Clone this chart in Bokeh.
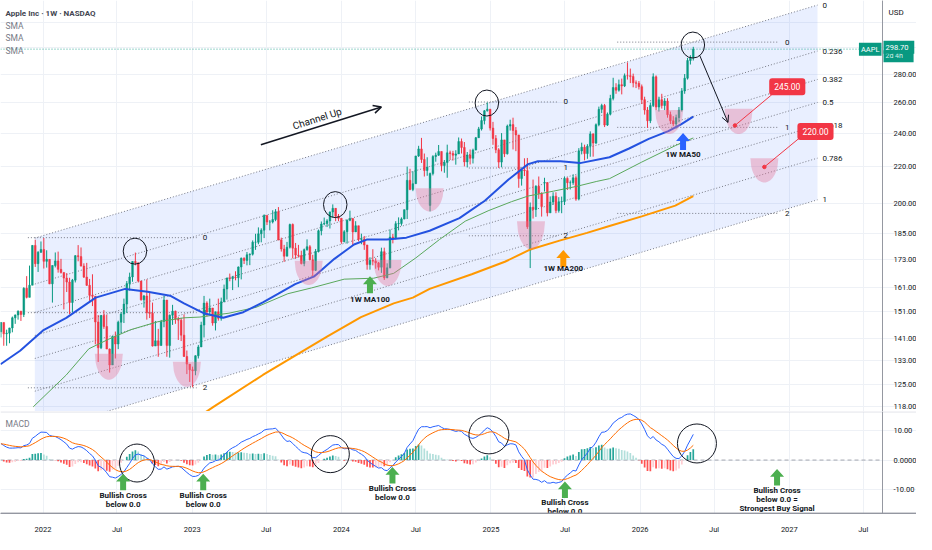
import numpy as np
import pandas as pd
from bokeh.plotting import figure
from bokeh.layouts import column
from bokeh.models import Range1d, FixedTicker, Span, Label, Arrow, OpenHead, ColumnDataSource
from bokeh.core.properties import value
from bokeh.embed import file_html
from bokeh.resources import INLINE

# ---------------- DATA (AAPL weekly) ----------------
first_week = "2021-09-20"
first_open = 143.40
closes = [
    146.92, 142.65, 142.90, 144.84, 148.69, 149.80, 151.28, 149.99, 160.55, 156.81, 161.84, 179.45, 171.14, 176.28, 177.57,
    172.17, 173.07, 162.41, 170.33, 172.39, 168.64, 167.30, 164.85, 163.17, 154.73, 163.98, 174.72, 174.31, 170.09, 165.29,
    161.79, 157.65, 157.28, 147.11, 137.59, 149.64, 145.38, 137.13, 131.56, 141.66, 138.93, 147.04, 150.17, 154.09, 162.51,
    165.35, 172.10, 171.52, 163.62, 155.81, 157.37, 150.70, 150.43, 138.20, 140.09, 138.38, 147.27, 155.74, 138.38, 149.70,
    151.29, 148.11, 147.81, 142.16, 134.51, 131.86, 129.93,
    129.62, 134.76, 137.87, 145.93, 154.50, 151.01, 152.55, 146.71, 151.03, 148.50, 155.00, 160.25, 164.90, 164.66, 165.21,
    165.02, 169.68, 173.57, 172.57, 175.16, 175.43, 180.95, 180.96, 184.92, 186.68, 193.97, 190.68, 190.69, 191.94, 195.83,
    181.99, 177.79, 174.49, 178.61, 189.46, 178.18, 175.01, 174.79, 171.21, 177.49, 178.85, 172.88, 168.22, 176.65, 186.40,
    189.69, 189.97, 191.24, 195.71, 197.57, 193.60, 192.53,
    181.18, 185.92, 191.56, 192.42, 185.85, 188.85, 182.31, 182.52, 179.66, 170.73, 172.62, 172.28, 171.48, 169.58, 176.55,
    165.00, 169.30, 183.38, 183.05, 189.87, 189.98, 192.25, 196.89, 212.49, 207.49, 210.62, 226.34, 230.54, 224.31, 217.96,
    219.86, 216.24, 226.05, 226.84, 229.00, 220.82, 222.50, 228.20, 227.79, 226.80, 227.55, 235.00, 231.41, 222.91, 226.96,
    225.00, 229.87, 237.33, 242.84, 248.13, 254.49, 255.59, 243.36,
    236.85, 229.98, 222.78, 236.00, 227.63, 244.60, 245.55, 241.84, 239.07, 213.49, 218.27, 217.90, 188.38, 198.15, 196.98,
    209.28, 205.35, 198.53, 211.26, 195.27, 200.85, 203.92, 196.45, 201.00, 201.08, 213.55, 211.16, 211.18, 213.88, 202.38,
    229.35, 231.59, 227.76, 232.14, 239.69, 234.07, 245.50, 255.46, 258.02, 245.27, 252.29, 262.82, 270.37, 268.47, 272.41,
    271.49, 278.85, 278.78, 278.28, 273.67, 273.40, 271.00,
    262.0, 255.0, 248.0, 258.0, 278.0, 257.0, 262.0, 258.0, 261.0, 252.0, 248.0, 246.0, 250.0, 255.0, 268.0,
    277.0, 290.0, 292.0, 298.70,
]
highs = [
    147.1, 145.7, 144.2, 144.9, 149.2, 150.0, 151.6, 151.4, 161.0, 165.7, 170.3, 179.6, 182.1, 176.8, 181.3,
    182.94, 177.2, 173.1, 170.4, 176.2, 176.6, 173.3, 166.2, 167.0, 165.0, 164.5, 175.0, 179.6, 178.5, 171.3,
    171.5, 164.5, 166.5, 156.7, 149.8, 149.7, 151.7, 149.9, 137.3, 141.9, 143.5, 147.6, 150.9, 156.3, 163.6,
    167.2, 172.2, 176.15, 168.9, 162.6, 157.8, 164.3, 158.7, 154.7, 147.5, 144.5, 147.9, 157.5, 155.4, 150.0,
    153.8, 151.5, 149.1, 148.7, 150.0, 136.6, 131.4,
    131.0, 134.9, 138.6, 147.2, 157.4, 155.2, 156.3, 151.3, 151.1, 156.3, 156.7, 162.1, 165.0, 166.8, 165.8,
    167.8, 169.9, 173.9, 174.0, 176.4, 175.8, 181.8, 184.95, 188.05, 187.6, 194.5, 193.9, 191.7, 196.6, 197.2,
    198.23, 183.1, 179.7, 181.1, 189.9, 189.98, 180.6, 179.7, 177.0, 178.0, 182.3, 179.6, 175.1, 177.8, 187.0,
    190.96, 192.9, 192.1, 195.99, 199.62, 197.7, 194.7,
    188.4, 186.7, 191.95, 196.4, 192.0, 191.1, 188.7, 185.0, 183.9, 176.9, 174.0, 177.7, 173.6, 171.9, 178.4,
    178.4, 171.3, 187.0, 184.9, 191.1, 193.0, 193.0, 196.9, 220.2, 218.95, 217.5, 226.45, 232.4, 237.23, 227.8,
    225.6, 216.8, 226.8, 228.3, 232.9, 229.0, 224.0, 233.1, 229.5, 229.4, 229.75, 237.5, 236.85, 234.7, 228.7,
    230.2, 230.7, 237.8, 244.1, 250.8, 255.0, 260.10, 253.5,
    247.3, 238.96, 231.0, 240.2, 236.0, 245.55, 248.7, 250.0, 244.0, 236.2, 218.8, 225.0, 225.2, 200.6, 212.9,
    209.75, 214.6, 206.0, 213.9, 211.3, 203.8, 206.0, 206.0, 203.4, 203.7, 214.65, 214.1, 212.4, 215.8, 215.2,
    231.0, 234.3, 233.1, 233.4, 241.3, 240.1, 246.3, 257.3, 259.2, 259.1, 253.4, 265.3, 277.3, 273.4, 276.0,
    276.7, 280.4, 288.62, 284.0, 280.3, 275.4, 275.0,
    272.5, 264.0, 257.0, 260.0, 280.5, 279.0, 264.0, 266.0, 263.0, 263.0, 254.0, 251.0, 252.0, 257.0, 270.0,
    280.0, 292.0, 294.0, 300.5,
]
lows = [
    141.3, 138.3, 138.3, 139.2, 143.2, 146.4, 148.0, 147.5, 149.0, 156.4, 157.8, 164.0, 169.7, 167.5, 176.0,
    169.0, 169.4, 162.3, 154.7, 169.5, 167.2, 166.8, 152.0, 159.0, 150.1, 150.8, 163.0, 172.2, 169.9, 164.9,
    161.5, 155.4, 153.3, 138.8, 132.6, 137.1, 144.5, 137.1, 129.0, 133.9, 133.8, 137.1, 142.7, 146.7, 150.6,
    159.6, 163.3, 170.4, 163.0, 155.5, 152.7, 148.0, 148.6, 138.0, 138.2, 134.4, 140.3, 145.1, 134.4, 134.1,
    146.0, 146.4, 140.4, 140.0, 134.4, 128.5, 125.9,
    124.17, 128.1, 133.8, 137.9, 141.3, 149.2, 150.0, 145.7, 143.9, 147.6, 147.6, 155.3, 155.9, 163.5, 159.8,
    163.9, 161.0, 164.3, 171.0, 170.4, 170.5, 174.8, 177.4, 180.0, 180.9, 182.9, 189.2, 186.6, 190.0, 191.1,
    181.9, 176.6, 171.96, 174.8, 178.0, 173.5, 173.3, 173.9, 170.8, 170.0, 177.0, 172.6, 165.67, 167.9, 176.2,
    184.2, 189.1, 188.2, 187.5, 192.9, 191.1, 191.1,
    180.2, 180.9, 180.3, 191.1, 179.3, 185.8, 181.4, 180.0, 177.4, 168.5, 168.5, 170.4, 168.9, 168.2, 167.1,
    164.08, 164.8, 169.1, 180.4, 182.3, 186.6, 188.9, 192.0, 192.2, 207.1, 206.6, 211.5, 225.8, 222.3, 214.6,
    215.0, 196.0, 215.2, 223.0, 226.4, 217.5, 216.7, 213.9, 224.0, 223.7, 221.3, 230.4, 227.8, 220.3, 219.7,
    221.4, 222.0, 229.7, 237.2, 241.8, 245.7, 254.0, 241.8,
    233.0, 228.0, 219.4, 219.8, 225.7, 227.2, 241.8, 230.2, 229.2, 208.4, 209.6, 214.9, 187.3, 169.21, 192.4,
    193.25, 202.5, 193.4, 206.4, 193.5, 196.0, 199.4, 195.1, 195.4, 195.1, 199.3, 207.2, 207.5, 210.0, 201.5,
    201.7, 227.3, 223.8, 224.7, 225.9, 225.95, 233.4, 244.5, 253.0, 244.0, 244.7, 251.5, 261.5, 266.0, 267.5,
    265.6, 270.7, 276.0, 273.5, 270.5, 270.0, 269.0,
    259.0, 252.0, 243.5, 246.5, 257.0, 255.0, 254.0, 256.0, 255.0, 250.0, 246.0, 244.5, 243.0, 247.0, 254.0,
    266.0, 276.0, 287.0, 290.0,
]
gap_open_dates = ["2024-08-05", "2025-04-07", "2025-05-12"]
gap_open_vals = [199.09, 177.20, 210.97]

# weekly closes before the visible window (MACD warm-up)
pre_closes = [116.97, 119.02, 115.04, 108.86, 118.69, 119.26, 117.34, 116.59, 122.25, 122.41, 126.66, 131.97, 132.69,
              132.05, 127.14, 139.07, 131.96, 136.76, 135.37, 129.87, 121.26, 121.42, 121.03, 119.99, 121.21, 123.00,
              133.00, 134.16, 134.32, 131.46, 130.21, 127.45, 125.43, 124.61, 125.89, 127.35, 130.46, 133.11, 139.96,
              145.11, 146.39, 148.56, 145.86, 146.14, 149.10, 148.19, 148.60, 154.30, 148.97, 146.06]

ma50_dates = ["2021-09-19", "2021-11-06", "2022-01-01", "2022-02-27", "2022-05-10", "2022-07-21", "2022-09-14",
              "2022-11-08", "2022-12-12", "2023-01-29", "2023-03-18", "2023-05-06", "2023-06-23", "2023-07-31",
              "2023-09-10", "2023-10-27", "2023-12-15", "2024-02-01", "2024-03-03", "2024-04-21", "2024-06-08",
              "2024-08-04", "2024-10-16", "2024-12-17", "2025-02-13", "2025-04-02", "2025-04-26", "2025-06-20",
              "2025-08-07", "2025-10-18", "2025-12-05", "2026-01-22", "2026-03-11", "2026-04-11", "2026-05-11"]
ma50_vals = [131.8, 136.5, 143.9, 148.7, 156.7, 160.3, 159.1, 157.5, 154.4, 150.5, 148.7, 150.9, 154.8, 158.3,
             162.3, 165.6, 173.3, 179.9, 182.2, 182.2, 183.1, 186.4, 192.6, 201.5, 212.9, 221.6, 223.3, 223.3,
             222.2, 225.6, 230.8, 236.6, 241.4, 245.7, 250.7]
ma100_dates = ["2021-12-08", "2022-02-27", "2022-04-23", "2022-06-11", "2022-08-04", "2022-10-09", "2022-12-12",
               "2023-01-20", "2023-04-01", "2023-06-06", "2023-08-23", "2023-10-20", "2024-01-08", "2024-03-20",
               "2024-05-08", "2024-07-01", "2024-08-28", "2024-10-30", "2024-12-27", "2025-02-20", "2025-04-02",
               "2025-06-03", "2025-07-30", "2025-09-17", "2025-10-18", "2026-01-05", "2026-03-28", "2026-05-11"]
ma100_vals = [118.0, 128.2, 137.2, 140.7, 144.2, 147.2, 148.7, 149.0, 150.5, 152.8, 158.3, 160.7, 164.4, 164.8,
              166.9, 173.7, 182.2, 191.1, 196.5, 201.0, 204.0, 206.6, 209.2, 211.9, 213.4, 222.8, 232.5, 237.2]
ma200_dates = ["2023-01-24", "2023-02-22", "2023-06-23", "2023-09-10", "2023-11-28", "2024-02-18", "2024-05-08",
               "2024-06-24", "2024-08-04", "2024-11-15", "2025-02-04", "2025-04-09", "2025-06-20", "2025-08-24",
               "2025-10-18", "2026-01-05", "2026-03-28", "2026-05-11"]
ma200_vals = [115.6, 118.0, 128.2, 134.8, 141.7, 149.0, 154.4, 156.7, 160.3, 166.5, 172.0, 177.7, 181.8, 185.4,
              188.7, 193.5, 199.0, 204.0]

# drawings
channel_dates = ["2021-12-12", "2027-03-11"]
channel_top = [182.9, 334.9]
channel_bottom = [110.3, 202.0]
channel_levels = [0, 0.236, 0.382, 0.5, 0.618, 0.786, 1]
channel_labels = ["0", "0.236", "0.382", "0.5", "0.618", "0.786", "1"]
fib_labels = ["0", "1", "2"]
fib_dates = [["2021-11-25", "2023-01-12"], ["2024-11-08", "2025-06-13"], ["2025-11-06", "2026-12-07"]]
fib_prices = [[183.1, 150.7, 124.0], [260.4, 219.4, 184.0], [304.2, 243.8, 195.0]]
bowl_dates = ["2022-06-11", "2022-12-19", "2023-10-13", "2024-04-23", "2024-08-04", "2025-04-09", "2026-03-13",
              "2026-08-30", "2026-11-01"]
bowl_top = [135.5, 132.7, 172.4, 172.8, 208.2, 191.1, 255.1, 255.8, 225.0]
bowl_bottom = [126.6, 124.3, 161.9, 161.5, 196.0, 177.7, 239.6, 239.6, 211.3]
circle_dates = ["2022-08-14", "2023-12-17", "2024-12-22", "2026-05-10"]
circle_prices = [176.8, 199.5, 259.7, 301.9]
macd_circle_dates = ["2022-08-19", "2023-12-05", "2024-12-27", "2026-05-20"]
macd_circle_vals = [-1.0, 2.0, 8.5, 5.6]
macd_circle_w = [35, 38, 40, 39]
macd_circle_h = [38, 37, 38, 39]
target_dates = ["2026-08-21", "2026-11-01"]
target_prices = [245.0, 220.0]
tag_dates = ["2026-12-27", "2027-03-06"]
tag_prices = [271.0, 241.2]
tag_texts = ["245.00", "220.00"]
tag_line_dates = ["2026-11-20", "2027-01-26"]
tag_line_prices = [265.6, 237.2]
ma_arrow_dates = ["2026-04-16", "2024-03-11", "2025-06-27"]
ma_arrow_tips = [240.2, 165.6, 177.3]
ma_arrow_text = ["1W MA50", "1W MA100", "1W MA200"]
ma_arrow_text_prices = [227.3, 155.9, 169.0]
cross_dates = ["2022-07-16", "2023-01-28", "2024-05-05", "2025-07-01", "2026-12-02"]
cross_tips = [-4.6, -4.6, -2.3, -7.2, -3.0]
cross_texts = [["Bullish Cross", "below 0.0"]] * 4 + [["Bullish Cross", "below 0.0 =", "Strongest Buy Signal"]]
last_price = 298.70

y_ticks = [118, 125, 133, 141, 151, 161, 173, 185, 200, 220, 240, 260, 280, 300, 320]
y_tick_labels = ["118.00", "125.00", "133.00", "141.00", "151.00", "161.00", "173.00", "185.00", "200.00",
                 "220.00", "240.00", "260.00", "280.00", "", ""]
x_tick_dates = ["2022-01-01", "2022-07-01", "2023-01-01", "2023-07-01", "2024-01-01", "2024-07-01", "2025-01-01",
                "2025-07-01", "2026-01-01", "2026-07-01", "2027-01-01", "2027-07-01"]
x_tick_labels = ["2022", "Jul", "2023", "Jul", "2024", "Jul", "2025", "Jul", "2026", "Jul", "2027", "Jul"]
macd_ticks = [-10, 0, 10]
macd_tick_labels = ["-10.00", "0.0000", "10.00"]

# ---------------- helpers / layout ----------------
def ms(d):
    return int(pd.Timestamp(d).value // 10**6)

FONT = "Roboto"
GREEN, RED = "#089981", "#f23645"
AXIS_COL = "#9598a1"
PW, FULLW, FH1, FH2, BOT = 882, 916, 411, 102, 21      # plot-area width, full frame width, pane heights
X0, X1 = ms("2021-09-19"), ms("2027-08-17")               # X1 = where the price scale sits
MS_PX = (X1 - X0) / PW
XE = X0 + FULLW * MS_PX
P_LO, P_HI = 116.6, 338.9
M_LO, M_HI = -18.03, 16.39
PX_LN = FH1 / np.log(P_HI / P_LO)
U_PX = (M_HI - M_LO) / FH2
WEEK = 7 * 24 * 3600 * 1000

weeks = pd.date_range(first_week, periods=len(closes), freq="7D")
xs = np.array([ms(d) for d in weeks], dtype=float)
c = np.array(closes)
o = np.array([first_open] + closes[:-1])
for d, v in zip(gap_open_dates, gap_open_vals):
    o[weeks.get_loc(pd.Timestamp(d))] = v
h = np.maximum(np.array(highs), np.maximum(o, c))
l = np.minimum(np.array(lows), np.minimum(o, c))
ccol = np.where(c >= o, GREEN, RED)

allc = pd.Series(pre_closes + closes, dtype=float)
ema12 = allc.ewm(span=12, adjust=False).mean()
ema26 = allc.ewm(span=26, adjust=False).mean()
macd_all = ema12 - ema26
sig_all = macd_all.ewm(span=9, adjust=False).mean()
hist_all = (macd_all - sig_all).values
n0 = len(pre_closes)
macd = macd_all.values[n0:]
sig = sig_all.values[n0:]
hist = hist_all[n0:]
hprev = hist_all[n0 - 1:-1]
hcol = []
for hv, hp in zip(hist, hprev):
    if hv >= 0:
        hcol.append("#26a69a" if hv > hp else "#b2dfdb")
    else:
        hcol.append("#ff5252" if hv < hp else "#ffcdd2")

xticks = [ms(d) for d in x_tick_dates]

def style_axis(ax):
    ax.axis_line_color = AXIS_COL
    ax.major_tick_line_color = None
    ax.minor_tick_line_color = None
    ax.major_label_text_font = FONT
    ax.major_label_text_font_size = "7.5px"
    ax.major_label_text_color = "#131722"
    ax.major_label_standoff = 5

common = dict(output_backend="svg", toolbar_location=None, min_border_left=0, min_border_right=0,
              min_border_top=0, background_fill_color="white", border_fill_color="white",
              outline_line_color=None)

p1 = figure(frame_width=FULLW, frame_height=FH1, x_range=Range1d(X0, XE), y_range=Range1d(P_LO, P_HI),
            y_axis_type="log", y_axis_location="right", min_border_bottom=0, **common)
p1.xaxis.visible = False
p1.yaxis.ticker = FixedTicker(ticks=y_ticks)
p1.yaxis.major_label_overrides = dict(zip(y_ticks, y_tick_labels))
p1.yaxis.fixed_location = X1
style_axis(p1.yaxis[0])
p1.xgrid.ticker = FixedTicker(ticks=xticks)
p1.ygrid.bounds = (X0, X1)
for g in (p1.xgrid[0], p1.ygrid[0]):
    g.grid_line_color = "#eef1f6"
p1.add_layout(Span(location=X1, dimension="height", line_color=AXIS_COL, line_width=1))

# --- fib channel
cs, ce = ms(channel_dates[0]), ms(channel_dates[1])
p1.patch(x=[cs, ce, ce, cs], y=[channel_top[0], channel_top[1], channel_bottom[1], channel_bottom[0]],
         fill_color="#2962ff", fill_alpha=0.1, line_color=None)
lvl_s = [np.exp(np.log(channel_top[0]) + f * np.log(channel_bottom[0] / channel_top[0])) for f in channel_levels]
lvl_e = [np.exp(np.log(channel_top[1]) + f * np.log(channel_bottom[1] / channel_top[1])) for f in channel_levels]
p1.multi_line(xs=[[cs, ce]] * len(channel_levels), ys=[[a, b] for a, b in zip(lvl_s, lvl_e)],
              line_color="#787b86", line_dash="1 2", line_width=1)
p1.text(x=[ce] * len(channel_levels), y=lvl_e, text=channel_labels, x_offset=5, text_font=value(FONT),
        text_font_size=value("8px"), text_color="#131722", text_baseline="middle", text_align="left")

# --- fib retracements
for fd, fp in zip(fib_dates, fib_prices):
    a, b = ms(fd[0]), ms(fd[1])
    p1.segment(x0=[a] * 3, x1=[b] * 3, y0=fp, y1=fp, line_color="#787b86", line_dash="1 2", line_width=1)
    p1.text(x=[b] * 3, y=fp, text=fib_labels, x_offset=6, text_font=value(FONT), text_font_size=value("8px"),
            text_color="#131722", text_baseline="middle", text_align="left")

# --- last price line
p1.segment(x0=[X0], x1=[X1], y0=[last_price], y1=[last_price], line_color=GREEN, line_dash="1 2", line_alpha=0.8)

# --- candles
src = ColumnDataSource(dict(x=xs, o=o, h=h, l=l, c=c, top=np.maximum(o, c), bot=np.minimum(o, c), col=ccol))
p1.segment(x0="x", x1="x", y0="l", y1="h", line_color="col", line_width=1, source=src)
p1.vbar(x="x", width=0.6 * WEEK, top="top", bottom="bot", fill_color="col", line_color="col",
        line_width=0.5, source=src)

# --- moving averages
p1.line(x=[ms(d) for d in ma100_dates], y=ma100_vals, line_color="#5aa85c", line_width=1)
p1.line(x=[ms(d) for d in ma200_dates], y=ma200_vals, line_color="#ff9800", line_width=2)
p1.line(x=[ms(d) for d in ma50_dates], y=ma50_vals, line_color="#2452e0", line_width=2)

# --- pink bowls
bx, by = [], []
k = np.linspace(-1, 1, 31)
for d, t, b in zip(bowl_dates, bowl_top, bowl_bottom):
    cx = ms(d)
    hw = 14 * MS_PX
    bx.append(list(cx + k * hw))
    by.append(list(t * np.exp(-np.log(t / b) * np.sqrt(1 - k ** 2))))
p1.patches(xs=bx, ys=by, fill_color="#e57399", fill_alpha=0.38, line_color=None)

# --- circles
p1.ellipse(x=[ms(d) for d in circle_dates], y=circle_prices, width=23.5, height=26, width_units="screen",
           height_units="screen", fill_color=None, line_color="#131722", line_width=1)

# --- Channel Up arrow + text
p1.add_layout(Arrow(x_start=ms("2023-06-18"), y_start=233.1, x_end=ms("2024-04-08"), y_end=257.1,
                    line_color="#131722", line_width=1.5,
                    end=OpenHead(size=8, line_color="#131722", line_width=1.5)))
p1.text(x=[ms("2023-11-03")], y=[249.4], text=["Channel Up"], angle=0.31, text_align="center",
        text_baseline="middle", text_font=value(FONT), text_font_size=value("10px"), text_color="#131722")

# --- projection arrow
p1.add_layout(Arrow(x_start=ms("2026-05-27"), y_start=293.7, x_end=ms("2026-08-04"), y_end=246.9,
                    line_color="#131722", line_width=1,
                    end=OpenHead(size=7, line_color="#131722", line_width=1)))

# --- targets
p1.segment(x0=[ms(d) for d in tag_line_dates], y0=tag_line_prices, x1=[ms(d) for d in target_dates],
           y1=target_prices, line_color=RED, line_width=1)
p1.scatter(x=[ms(d) for d in target_dates], y=target_prices, size=3.5, color=RED)
for d, pr, t in zip(tag_dates, tag_prices, tag_texts):
    p1.add_layout(Label(x=ms(d), y=pr, text=t, text_align="center", text_baseline="middle", text_color="white",
                        text_font=FONT, text_font_size="8.5px", background_fill_color=RED,
                        background_fill_alpha=1.0, padding=5, border_radius=3))

# --- block arrows
SHAPE = [(0, 0), (7, 8), (3, 8), (3, 17), (-3, 17), (-3, 8), (-7, 8)]
ma_cols = ["#2962ff", "#4caf50", "#ff9800"]
for d, tip, txt, tp, col in zip(ma_arrow_dates, ma_arrow_tips, ma_arrow_text, ma_arrow_text_prices, ma_cols):
    cx = ms(d)
    p1.patch(x=[cx + dx * MS_PX for dx, dy in SHAPE], y=[tip * np.exp(-dy / PX_LN) for dx, dy in SHAPE],
             fill_color=col, line_color=None)
    p1.text(x=[cx], y=[tp], text=[txt], text_align="center", text_baseline="middle", text_font=value(FONT),
            text_font_size=value("8px"), text_font_style="bold", text_color="#131722")

# --- header texts and price tag
p1.add_layout(Label(x=5, y=FH1 - 12.6, x_units="screen", y_units="screen", text="Apple Inc · 1W · NASDAQ",
                    text_font=FONT, text_font_size="8px", text_font_style="bold", text_color="#434651",
                    text_baseline="middle"))
for yy in [25.3, 37.9, 50.5]:
    p1.add_layout(Label(x=5, y=FH1 - yy, x_units="screen", y_units="screen", text="SMA", text_font=FONT,
                        text_font_size="8.5px", text_color="#787b86", text_baseline="middle"))
p1.add_layout(Label(x=PW + 6, y=FH1 - 11.7, x_units="screen", y_units="screen", text="USD", text_font=FONT,
                    text_font_size="8px", text_color="#131722", text_baseline="middle"))
p1.add_layout(Label(x=PW - 1, x_units="screen", y=last_price, text="AAPL", text_align="right",
                    text_baseline="middle", text_font=FONT, text_font_size="7.5px", text_color="white",
                    background_fill_color=GREEN, background_fill_alpha=1.0, padding=2))
p1.add_layout(Label(x=PW + 1, x_units="screen", y=last_price, y_offset=-7, text="  2d 4h   ", text_align="left",
                    text_baseline="middle", text_font=FONT, text_font_size="7px", text_color="#d8f0ea",
                    background_fill_color=GREEN, background_fill_alpha=1.0, padding=2))
p1.add_layout(Label(x=PW + 1, x_units="screen", y=last_price, y_offset=2, text=" 298.70 ", text_align="left",
                    text_baseline="middle", text_font=FONT, text_font_size="7.5px", text_color="white",
                    background_fill_color=GREEN, background_fill_alpha=1.0, padding=2))

# ---------------- MACD pane ----------------
p2 = figure(frame_width=FULLW, frame_height=FH2, x_range=p1.x_range, y_range=Range1d(M_LO, M_HI),
            y_axis_location="right", min_border_bottom=BOT, **common)
p2.xaxis.ticker = FixedTicker(ticks=xticks)
p2.xaxis.major_label_overrides = dict(zip(xticks, x_tick_labels))
p2.yaxis.ticker = FixedTicker(ticks=macd_ticks)
p2.yaxis.major_label_overrides = dict(zip(macd_ticks, macd_tick_labels))
p2.yaxis.fixed_location = X1
style_axis(p2.xaxis[0])
style_axis(p2.yaxis[0])
p2.ygrid.bounds = (X0, X1)
for g in (p2.xgrid[0], p2.ygrid[0]):
    g.grid_line_color = "#eef1f6"
p2.add_layout(Span(location=M_HI - 0.4 * U_PX, dimension="width", line_color="#d6d9e0", line_width=1))
p2.add_layout(Span(location=M_LO + 0.4 * U_PX, dimension="width", line_color=AXIS_COL, line_width=1))
p2.add_layout(Span(location=X1, dimension="height", line_color=AXIS_COL, line_width=1))
p2.segment(x0=[X0], x1=[X1], y0=[0], y1=[0], line_color="#a3a6af", line_dash="4 3", line_width=1)

p2.vbar(x=xs, width=0.6 * WEEK, top=hist, bottom=0, fill_color=hcol, line_color=None)
p2.line(x=xs, y=macd, line_color="#2962ff", line_width=1)
p2.line(x=xs, y=sig, line_color="#ff6d00", line_width=1)

p2.ellipse(x=[ms(d) for d in macd_circle_dates], y=macd_circle_vals, width=macd_circle_w, height=macd_circle_h,
           width_units="screen", height_units="screen", fill_color=None, line_color="#131722", line_width=1)

for d, tip, lines in zip(cross_dates, cross_tips, cross_texts):
    cx = ms(d)
    p2.patch(x=[cx + dx * MS_PX for dx, dy in SHAPE], y=[tip - dy * U_PX * 0.97 for dx, dy in SHAPE],
             fill_color="#4caf50", line_color=None)
    ty = [tip - (21.5 + 8.8 * i) * U_PX for i in range(len(lines))]
    p2.text(x=[cx] * len(lines), y=ty, text=lines, text_align="center", text_baseline="middle",
            text_font=value(FONT), text_font_size=value("8px"), text_font_style="bold", text_color="#131722")

p2.add_layout(Label(x=5, y=FH2 - 12.6, x_units="screen", y_units="screen", text="MACD", text_font=FONT,
                    text_font_size="8.5px", text_color="#787b86", text_baseline="middle"))

layout = column(p1, p2)
open("out.html", "w").write(file_html(layout, INLINE))
